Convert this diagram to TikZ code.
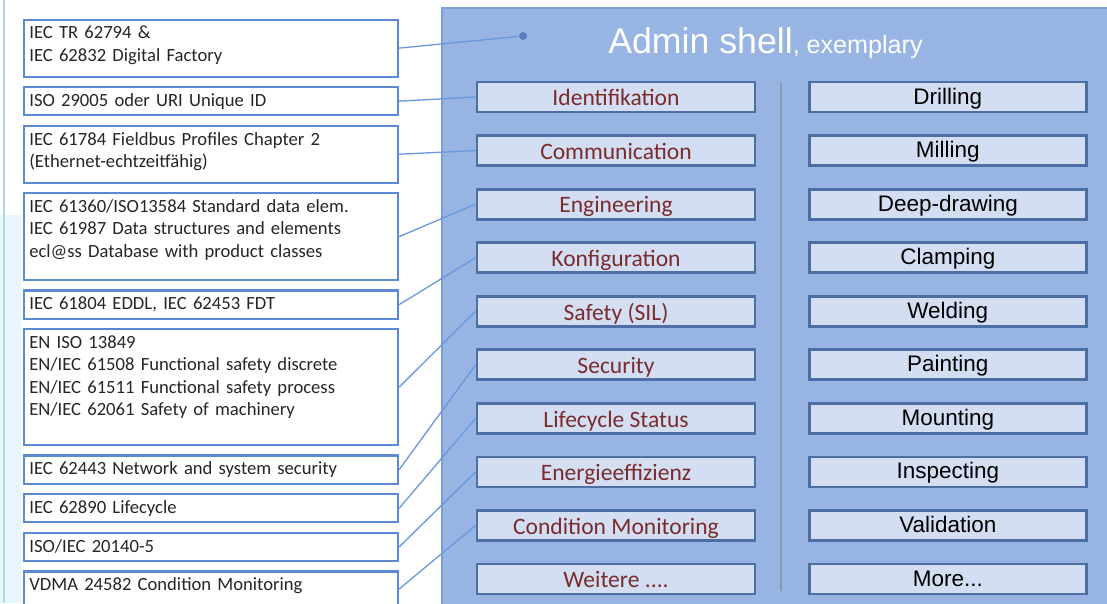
\documentclass[tikz,border=0pt]{standalone}
\usepackage{fontspec}
\setmainfont{Carlito}
\newfontfamily\arialfont{Liberation Sans}
\usetikzlibrary{positioning}
\definecolor{panelfill}{RGB}{151,180,227}
\definecolor{paneledge}{RGB}{124,158,214}
\definecolor{cellfill}{RGB}{211,222,242}
\definecolor{celledge}{RGB}{78,111,166}
\definecolor{stdedge}{RGB}{91,137,212}
\definecolor{linkblue}{RGB}{106,152,222}
\definecolor{aspectred}{RGB}{122,44,44}
\definecolor{dividergray}{RGB}{138,154,182}
\definecolor{stripcyan}{RGB}{168,221,232}
\definecolor{stripfill}{RGB}{232,245,251}
\tikzset{stdbox/.style={draw=stdedge,line width=1.2pt,fill=white,align=left,text width=7.27cm,inner xsep=3pt,inner ysep=3pt,text height=8pt,text depth=2.1pt,text=black!85,font=\fontsize{10.6}{12.8}\selectfont}}
\tikzset{cell/.style={draw=celledge,line width=1.6pt,fill=cellfill,minimum height=0.6cm,inner sep=0pt}}
\tikzset{aspect/.style={cell,minimum width=5.56cm,text=aspectred,text height=11pt,text depth=1pt,font=\fontsize{13.4}{16}\selectfont}}
\tikzset{skill/.style={cell,minimum width=5.54cm,text height=10pt,text depth=2pt,font=\arialfont\fontsize{12.8}{15}\selectfont}}
\tikzset{link/.style={draw=linkblue,line width=0.75pt}}
\tikzset{anchordot/.style={circle,fill=linkblue!85!black,inner sep=0pt,minimum size=0.16cm}}

\begin{document}
\begin{tikzpicture}
    \useasboundingbox (0,0) rectangle (22.14,-12.06);
    \clip (0,0) rectangle (22.14,-12.06);
    % page edge and shell panel
    \fill[stripfill] (0,-4.3) rectangle (0.42,-12.06);
    \draw[stripcyan,line width=1pt] (0.08,0) -- (0.08,-12.06);
    \draw[draw=paneledge,fill=panelfill,line width=1pt] (8.84,-0.16) rectangle (22.6,-12.4);
    \draw[dividergray,line width=1.1pt] (15.62,-1.66) -- (15.62,-11.82);

    \node[anchor=base west,text=white,font=\arialfont,inner sep=0pt] (title) at (12.16,-1.06)
        {\fontsize{20.3}{24}\selectfont Admin shell\fontsize{14.3}{17}\selectfont, exemplary};
    \node[anchordot] (dot) at (10.46,-0.72) {};

    % standards
    \node[stdbox,anchor=north west,text depth=18.5pt] (b1) at (0.46,-0.37) {IEC TR 62794 \&\\IEC 62832 Digital Factory};
    \node[stdbox,below=0.165cm of b1] (b2) {ISO 29005 oder URI Unique ID};
    \node[stdbox,below=0.165cm of b2,text depth=18.5pt] (b3) {IEC 61784 Fieldbus Profiles Chapter 2\\(Ethernet-echtzeitfähig)};
    \node[stdbox,below=0.165cm of b3,text depth=35.5pt] (b4) {IEC 61360/ISO13584 Standard data elem.\\IEC 61987 Data structures and elements\\ecl@ss Database with product classes};
    \node[stdbox,below=0.165cm of b4] (b5) {IEC 61804 EDDL, IEC 62453 FDT};
    \node[stdbox,below=0.165cm of b5,text depth=52pt] (b6) {EN ISO 13849\\EN/IEC 61508 Functional safety discrete\\EN/IEC 61511 Functional safety process\\EN/IEC 62061 Safety of machinery};
    \node[stdbox,below=0.165cm of b6] (b7) {IEC 62443 Network and system security};
    \node[stdbox,below=0.165cm of b7] (b8) {IEC 62890 Lifecycle};
    \node[stdbox,below=0.165cm of b8] (b9) {ISO/IEC 20140-5};
    \node[stdbox,below=0.165cm of b9,text depth=6pt] (b10) {VDMA 24582 Condition Monitoring};

    % aspects of the shell
    \node[aspect] (ident) at (12.32,-1.94) {Identifikation};
    \node[aspect,below=0.415cm of ident] (comm) {Communication};
    \node[aspect,below=0.415cm of comm] (eng) {Engineering};
    \node[aspect,below=0.415cm of eng] (konf) {Konfiguration};
    \node[aspect,below=0.415cm of konf] (safety) {Safety (SIL)};
    \node[aspect,below=0.415cm of safety] (secu) {Security};
    \node[aspect,below=0.415cm of secu] (life) {Lifecycle Status};
    \node[aspect,below=0.415cm of life] (energy) {Energieeffizienz};
    \node[aspect,below=0.415cm of energy] (cond) {Condition Monitoring};
    \node[aspect,below=0.415cm of cond] (more) {Weitere ....};

    % skills
    \node[skill,right=1.03cm of ident] (drill) {Drilling};
    \node[skill,right=1.03cm of comm] (mill) {Milling};
    \node[skill,right=1.03cm of eng] (deep) {Deep-drawing};
    \node[skill,right=1.03cm of konf] (clamp) {Clamping};
    \node[skill,right=1.03cm of safety] (weld) {Welding};
    \node[skill,right=1.03cm of secu] (paint) {Painting};
    \node[skill,right=1.03cm of life] (mount) {Mounting};
    \node[skill,right=1.03cm of energy] (inspect) {Inspecting};
    \node[skill,right=1.03cm of cond] (valid) {Validation};
    \node[skill,right=1.03cm of more] (moreskill) {More...};

    \path[link] (b1.east) -- (dot);
    \path[link] (b2.east) -- (ident.west);
    \path[link] (b3.east) -- (comm.west);
    \path[link] (b4.east) -- (eng.west);
    \path[link] (b5.east) -- (konf.west);
    \path[link] (b6.east) -- (safety.west);
    \path[link] (b7.east) -- (secu.west);
    \path[link] (b8.east) -- (life.west);
    \path[link] (b9.east) -- (energy.west);
    \path[link] (b10.east) -- (cond.west);
\end{tikzpicture}
\end{document}
